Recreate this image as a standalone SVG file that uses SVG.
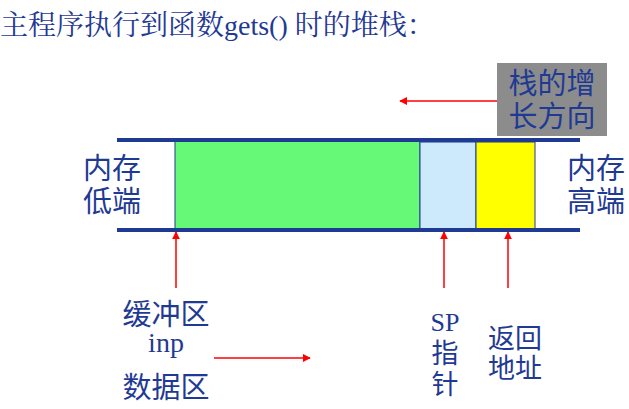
<svg xmlns="http://www.w3.org/2000/svg" width="629" height="409" viewBox="0 0 629 409">
<style>
.t{font-family:"Noto Sans CJK SC",sans-serif;fill:#1f3a93;font-size:29px}
.u{font-family:"Noto Sans CJK SC",sans-serif;fill:#1f3a93;font-size:27px}
.s{font-family:"Liberation Serif","Noto Serif CJK SC","Noto Sans CJK SC",serif;fill:#1f3a93}
.a{stroke:#ff0000;stroke-width:1.5;fill:none}
</style>
<defs><marker id="m" viewBox="0 0 10 10" refX="9" refY="5" markerWidth="8" markerHeight="8" orient="auto" markerUnits="userSpaceOnUse"><path d="M0,0L10,5L0,10z" fill="#ff0000"/></marker></defs>
<rect width="629" height="409" fill="#fff"/>
<text class="s" x="0" y="35" font-size="28" fill="#3a4a9a">主程序执行到函数gets() 时的堆栈：</text>
<g id="stack">
<rect x="175" y="141" width="245" height="89" fill="#66f977" stroke="#1f3a93" stroke-width="1"/>
<rect x="420" y="142" width="56" height="87" fill="#cdeafd" stroke="#1f3a93" stroke-width="1"/>
<rect x="476" y="142" width="59" height="87" fill="#ffff00" stroke="#1f3a93" stroke-width="1"/>
<line x1="117" y1="140" x2="580" y2="140" stroke="#1f3a93" stroke-width="4"/>
<line x1="117" y1="230" x2="580" y2="230" stroke="#1f3a93" stroke-width="4"/>
</g>
<g id="grow"><rect x="497" y="63" width="110" height="73" fill="#8c8c8c"/>
<text class="t" x="552" y="94" text-anchor="middle">栈的增</text>
<text class="t" x="552" y="127" text-anchor="middle">长方向</text></g>
<g id="low"><text class="t" x="112" y="179" text-anchor="middle">内存</text><text class="t" x="112" y="212" text-anchor="middle">低端</text></g>
<g id="high"><text class="t" x="596" y="179" text-anchor="middle">内存</text><text class="t" x="596" y="212" text-anchor="middle">高端</text></g>
<g id="buf"><text class="t" x="166" y="325" text-anchor="middle">缓冲区</text>
<text class="s" x="166" y="352" font-size="28" text-anchor="middle">inp</text>
<text class="t" x="166" y="398" text-anchor="middle" fill="#4a5aa8">数据区</text></g>
<g id="sp"><text class="s" x="445" y="331" font-size="26" text-anchor="middle">SP</text>
<text class="u" x="445" y="363" text-anchor="middle">指</text>
<text class="u" x="445" y="394" text-anchor="middle">针</text></g>
<g id="ret"><text class="u" x="515" y="348" text-anchor="middle">返回</text><text class="u" x="515" y="378" text-anchor="middle">地址</text></g>
<g id="connectors">
<line class="a" x1="497" y1="101" x2="400" y2="101" marker-end="url(#m)"/>
<line class="a" x1="176" y1="288" x2="176" y2="232" marker-end="url(#m)"/>
<line class="a" x1="444" y1="288" x2="444" y2="232" marker-end="url(#m)"/>
<line class="a" x1="508" y1="288" x2="508" y2="232" marker-end="url(#m)"/>
<line class="a" x1="214" y1="358" x2="310" y2="358" marker-end="url(#m)"/>
</g>
</svg>
